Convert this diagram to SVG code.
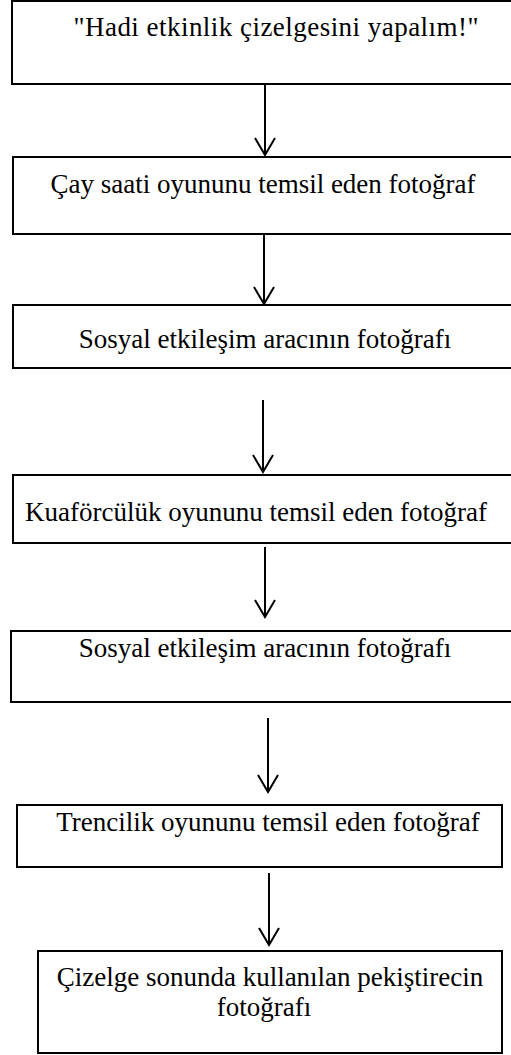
<svg xmlns="http://www.w3.org/2000/svg" width="511" height="1055" viewBox="0 0 511 1055">
  <style>
    .box { fill: #ffffff; stroke: #000000; stroke-width: 2; }
    .lbl { font-family: "Liberation Serif", "Times New Roman", serif; font-size: 27px; fill: #000000; text-anchor: middle; }
    .conn { stroke: #000000; stroke-width: 2; fill: none; marker-end: url(#arrow); }
  </style>
  <defs>
    <marker id="arrow" markerUnits="userSpaceOnUse" markerWidth="20" markerHeight="24" refX="0" refY="0" orient="auto" overflow="visible">
      <path d="M-17,-10 L0,0 L-17,10" fill="none" stroke="#000000" stroke-width="2"/>
    </marker>
  </defs>
  <rect width="511" height="1055" fill="#ffffff"/>

  <g id="node1">
    <rect class="box" x="12" y="1" width="510" height="83"/>
    <text class="lbl" x="276" y="36" textLength="405" lengthAdjust="spacing">"Hadi etkinlik çizelgesini yapalım!"</text>
  </g>
  <g id="node2">
    <rect class="box" x="13" y="157" width="509" height="77"/>
    <text class="lbl" x="263" y="193">Çay saati oyununu temsil eden fotoğraf</text>
  </g>
  <g id="node3">
    <rect class="box" x="13" y="305" width="509" height="63"/>
    <text class="lbl" x="265" y="348">Sosyal etkileşim aracının fotoğrafı</text>
  </g>
  <g id="node4">
    <rect class="box" x="13" y="475" width="509" height="68"/>
    <text class="lbl" x="256" y="521">Kuaförcülük oyununu temsil eden fotoğraf</text>
  </g>
  <g id="node5">
    <rect class="box" x="11" y="631" width="511" height="71"/>
    <text class="lbl" x="265" y="657">Sosyal etkileşim aracının fotoğrafı</text>
  </g>
  <g id="node6">
    <rect class="box" x="17" y="805" width="485" height="62"/>
    <text class="lbl" x="268" y="831">Trencilik oyununu temsil eden fotoğraf</text>
  </g>
  <g id="node7">
    <rect class="box" x="38" y="951" width="464" height="102"/>
    <text class="lbl" x="270" y="986">Çizelge sonunda kullanılan pekiştirecin</text>
    <text class="lbl" x="264" y="1016">fotoğrafı</text>
  </g>

  <g id="connectors">
    <line class="conn" x1="265" y1="85" x2="265" y2="155"/>
    <line class="conn" x1="264" y1="235" x2="264" y2="304"/>
    <line class="conn" x1="263" y1="400" x2="263" y2="472"/>
    <line class="conn" x1="265" y1="547" x2="265" y2="617"/>
    <line class="conn" x1="268" y1="718" x2="268" y2="792"/>
    <line class="conn" x1="269" y1="873" x2="269" y2="945"/>
  </g>
</svg>
